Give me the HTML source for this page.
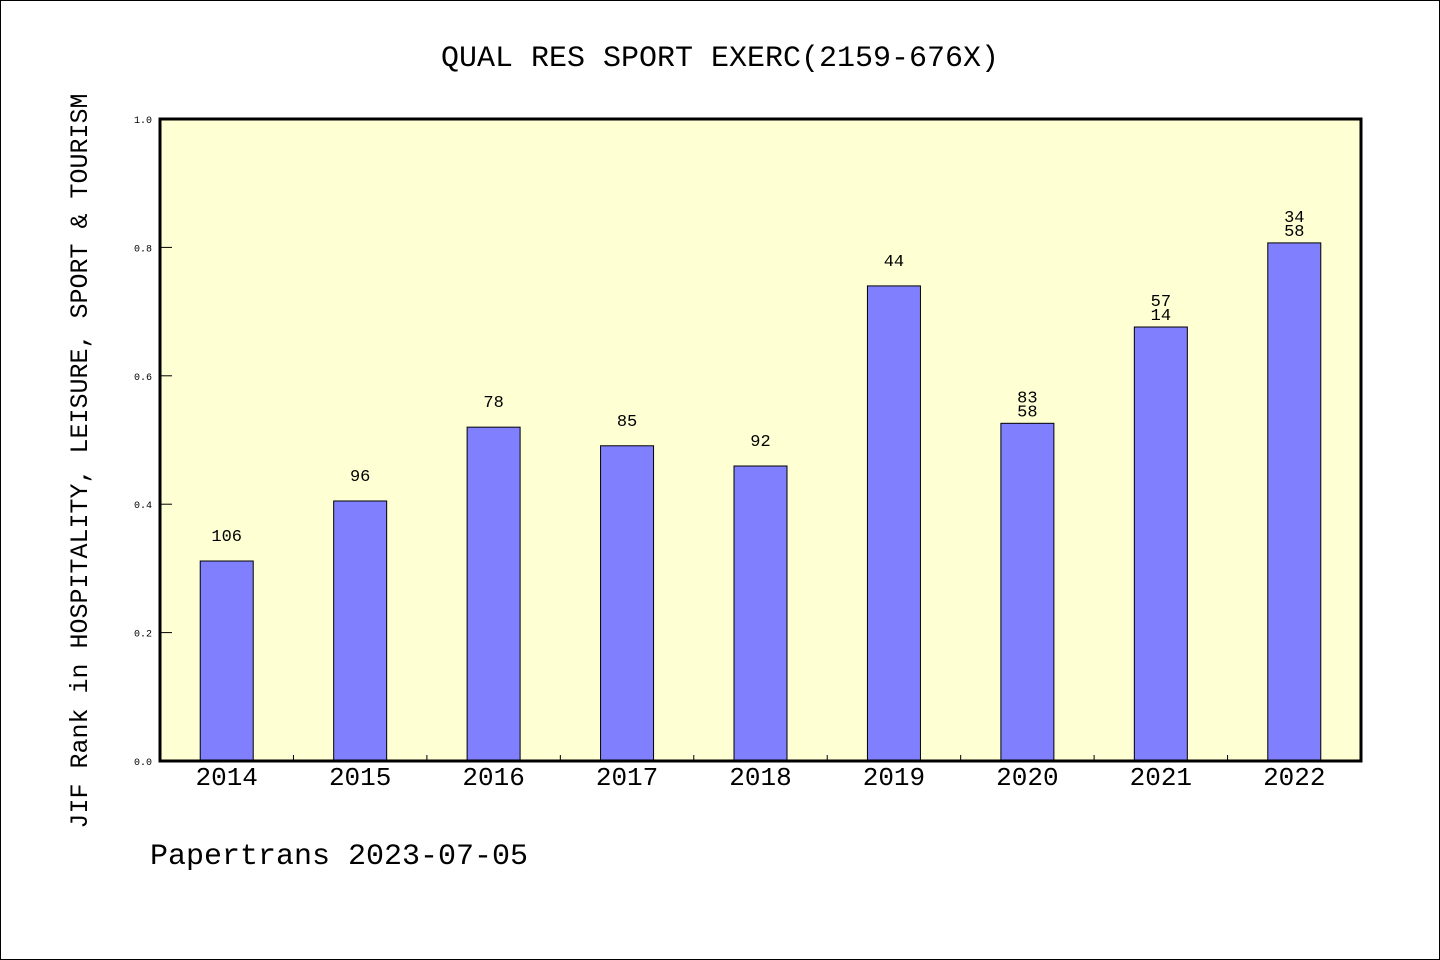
<!DOCTYPE html>
<html><head><meta charset="utf-8"><style>
html,body{margin:0;padding:0;background:#fff;}
svg{display:block;}
text{font-family:"WenQuanYi Zen Hei","Liberation Mono",monospace;fill:#000;}
</style></head><body>
<svg id="chart" width="1440" height="960">
<rect x="0.5" y="0.5" width="1439" height="959" fill="#fff" stroke="#000"/>
<text x="720" y="66" font-size="30" text-anchor="middle">QUAL RES SPORT EXERC(2159-676X)</text>
<rect x="160" y="119" width="1201" height="642" fill="#ffffd4"/>
<g id="bars"></g>
<rect x="160" y="119" width="1201" height="642" fill="none" stroke="#000" stroke-width="3"/>
<text transform="translate(87,461) rotate(-90)" font-size="25" text-anchor="middle">JIF Rank in HOSPITALITY, LEISURE, SPORT &amp; TOURISM</text>
<text x="150" y="864" font-size="30">Papertrans 2023-07-05</text>
</svg>
<script>
const categories=["2014","2015","2016","2017","2018","2019","2020","2021","2022"];
const values=[0.3115,0.405,0.520,0.491,0.4595,0.740,0.526,0.676,0.807];
const barLabels=[["106"],["96"],["78"],["85"],["92"],["44"],["83","58"],["57","14"],["34","58"]];
const yTicks=[0,0.2,0.4,0.6,0.8,1.0];
const X0=160,X1=1361,Y0=761,Y1=119;
const ns="http://www.w3.org/2000/svg";
const step=(X1-X0)/categories.length;
const xC=i=>X0+step*(i+0.5);
const yS=v=>Y0-(Y0-Y1)*v;
const g=document.getElementById('bars');
const svg=document.getElementById('chart');
function mk(t,a,p){const e=document.createElementNS(ns,t);for(const k in a)e.setAttribute(k,a[k]);(p||g).appendChild(e);return e;}
categories.forEach((c,i)=>{
  const r=mk('rect',{x:xC(i)-26.5,y:yS(values[i]),width:53,height:Y0-yS(values[i]),fill:'#8080ff',stroke:'#000','stroke-width':1});
  
  
  const lines=barLabels[i];
  lines.forEach((l,j)=>{
    const t=mk('text',{x:xC(i),y:yS(values[i])-(lines.length===1?20:7+(lines.length-1-j)*14),'font-size':17,'text-anchor':'middle'});
    t.textContent=l;
    
    
  });
  const xl=mk('text',{x:xC(i),y:785,'font-size':26,'text-anchor':'middle'},svg);
  xl.textContent=c;
  
  
  if(i>0){
    const tk=mk('line',{x1:X0+step*i,x2:X0+step*i,y1:Y0,y2:Y0-6,stroke:'#000','stroke-width':1},svg);
    
    
  }
});
yTicks.forEach(v=>{
  const t=mk('text',{x:152,y:yS(v)+4,'font-size':10,'text-anchor':'end'},svg);
  t.textContent=v.toFixed(1);
  
  
  if(v>0&&v<1){
    const l=mk('line',{x1:X0,x2:X0+12,y1:yS(v),y2:yS(v),stroke:'#000','stroke-width':1},svg);
    
    
  }
});
</script>
</body></html>
